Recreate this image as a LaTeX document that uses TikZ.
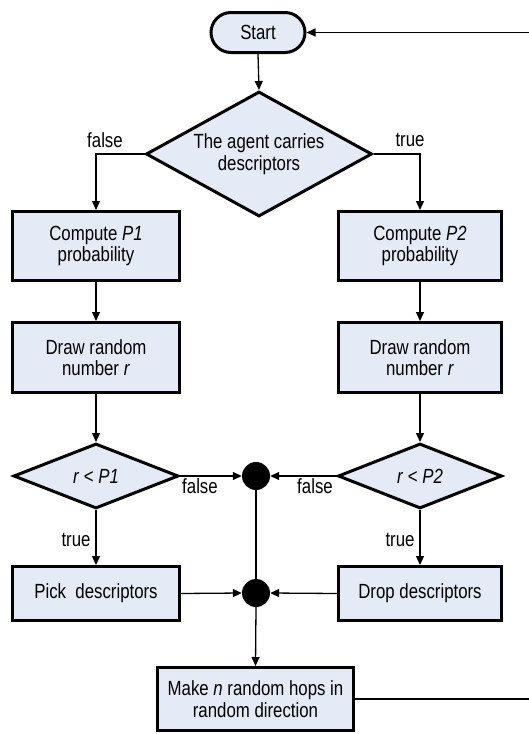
\documentclass[tikz,border=0pt]{standalone}
\usepackage{fontspec}
\setmainfont[FakeStretch=0.82]{Liberation Sans}
\usetikzlibrary{shapes.geometric,arrows.meta}
\definecolor{boxfill}{RGB}{228,235,247}
\begin{document}
\begin{tikzpicture}[x=1pt,y=-1pt,
  txt/.style={font=\fontsize{20.5}{21.5}\selectfont},
  procbox/.style={draw, line width=3pt, fill=boxfill, rectangle, inner sep=2pt, align=center, txt},
  startbox/.style={draw, line width=3pt, fill=boxfill, rectangle, rounded corners=20pt, minimum width=94pt, minimum height=40pt, txt},
  decision/.style={draw, line width=3pt, fill=boxfill, diamond, inner sep=0pt, align=center, txt},
  junction/.style={circle, fill=black, minimum size=28pt, inner sep=0pt},
  conn/.style={line width=1.3pt},
  arr/.style={conn, -{Triangle[length=9pt,width=8pt]}},
  lbl/.style={txt, inner sep=0pt}
]
\useasboundingbox (0,0) rectangle (528,734);

\node[startbox] (start) at (258,32.5) {Start};
\node[decision, aspect=1.8, minimum width=226pt, minimum height=125pt] (d1) at (259,154) {The agent carries\\descriptors};

\node[procbox, minimum width=167pt, minimum height=69pt] (p1) at (96,246) {Compute \textit{P1}\\probability};
\node[procbox, minimum width=163pt, minimum height=69pt] (p2) at (420,246) {Compute \textit{P2}\\probability};

\node[procbox, minimum width=167pt, minimum height=70pt] (r1) at (96,357.5) {Draw random\\number \textit{r}};
\node[procbox, minimum width=163pt, minimum height=70pt] (r2) at (420,357.5) {Draw random\\number \textit{r}};

\node[decision, aspect=2.5, minimum width=165pt, minimum height=65pt] (q1) at (96,476) {\textit{r} < \textit{P1}};
\node[decision, aspect=2.5, minimum width=164pt, minimum height=65pt] (q2) at (420,476) {\textit{r} < \textit{P2}};

\node[junction] (j1) at (256,476) {};
\node[junction] (j2) at (256,593) {};

\node[procbox, minimum width=167pt, minimum height=54pt] (pick) at (96,593.5) {Pick\ \ descriptors};
\node[procbox, minimum width=163pt, minimum height=54pt] (drop) at (420,593.5) {Drop descriptors};

\node[procbox, minimum width=196pt, minimum height=63pt] (make) at (255.5,699) {Make \textit{n} random hops in\\random direction};

% labels
\node[lbl] (lf1) at (105,140) {false};
\node[lbl] (lt1) at (410,140) {true};
\node[lbl] (lf2) at (200,486) {false};
\node[lbl] (lf3) at (315,486) {false};
\node[lbl] (lt2) at (76,540) {true};
\node[lbl] (lt3) at (400,540) {true};

% connectors
\draw[arr] (start.south) -- (d1.north);
\draw[arr] (d1.west) -| (p1.north);
\draw[arr] (d1.east) -| (p2.north);
\draw[arr] (p1.south) -- (r1.north);
\draw[arr] (p2.south) -- (r2.north);
\draw[arr] (r1.south) -- (q1.north);
\draw[arr] (r2.south) -- (q2.north);
\draw[arr] (q1.east) -- (j1.west);
\draw[arr] (q2.west) -- (j1.east);
\draw[conn] (j1.center) -- (j2.center);
\draw[arr] (q1.south) -- (pick.north);
\draw[arr] (q2.south) -- (drop.north);
\draw[arr] (pick.east) -- (j2.west);
\draw[arr] (drop.west) -- (j2.east);
\draw[arr] (j2.south) -- (make.north);
\coordinate (back) at (534,699);
\draw[arr] (make.east) -- (back) |- (start.east);
\end{tikzpicture}
\end{document}
